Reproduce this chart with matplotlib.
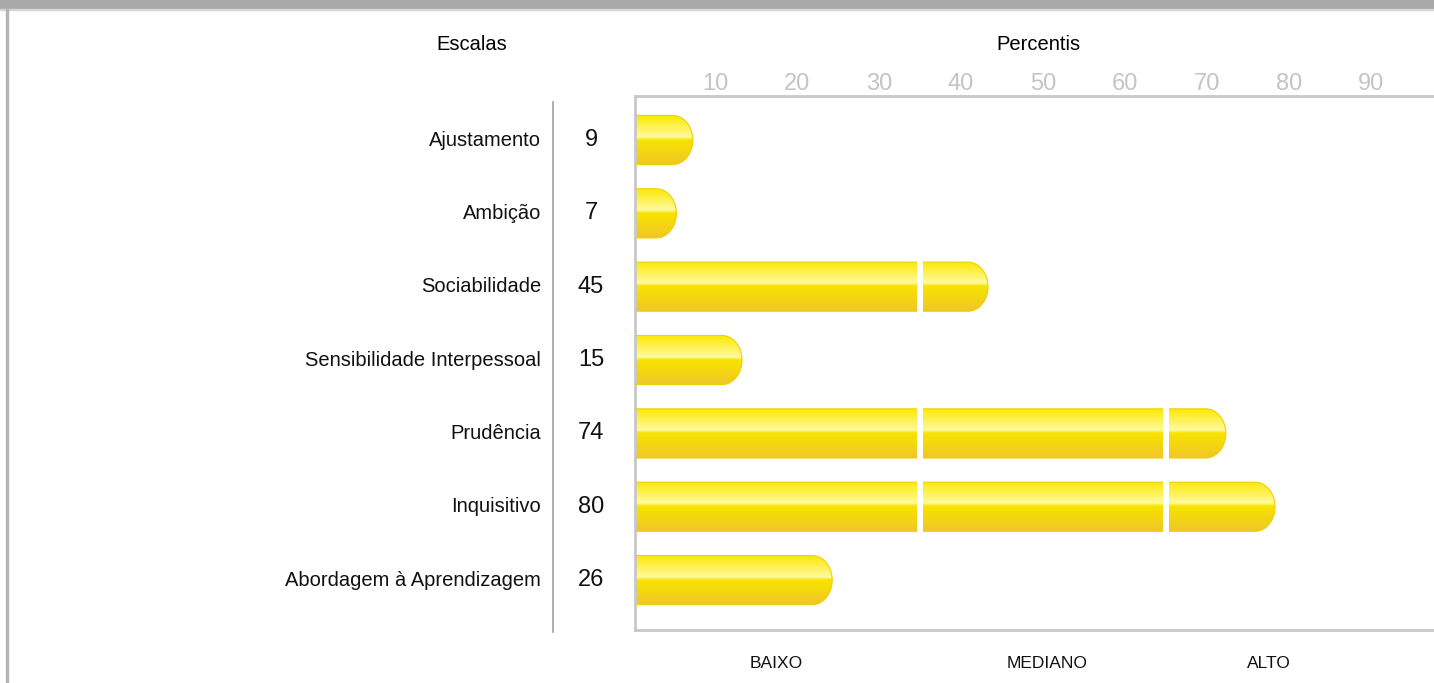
import numpy as np
import matplotlib
matplotlib.use("Agg")
import matplotlib.pyplot as plt
from matplotlib.path import Path
from matplotlib.patches import PathPatch, Rectangle
from matplotlib.colors import LinearSegmentedColormap

plt.rcParams["font.family"] = ["Liberation Sans", "DejaVu Sans"]

# data
scales = ["Ajustamento", "Ambição", "Sociabilidade", "Sensibilidade Interpessoal",
          "Prudência", "Inquisitivo", "Abordagem à Aprendizagem"]
percentis = [9, 7, 45, 15, 74, 80, 26]
ticks = [10, 20, 30, 40, 50, 60, 70, 80, 90]
bands = ["BAIXO", "MEDIANO", "ALTO"]
band_centers = [17.5, 50.5, 77.5]
band_edges = [35, 65]

W, H = 1434, 683
fig = plt.figure(figsize=(W / 100, H / 100), dpi=100)

# frame decoration: grey band at top, thin line on the left
fig.patches.append(Rectangle((0, 1 - 9 / H), 1, 9 / H, transform=fig.transFigure,
                             color="#a9a9a9", zorder=0))
fig.patches.append(Rectangle((0, 1 - 10 / H), 1, 1 / H, transform=fig.transFigure,
                             color="#d6d6d6", zorder=0))
fig.patches.append(Rectangle((6 / W, 0), 2 / W, 1 - 9 / H, transform=fig.transFigure,
                             color="#b4b4b4", zorder=0))

ax_l, ax_t, ax_b = 635, 96, 630
ax = fig.add_axes([ax_l / W, (H - ax_b) / H, (W - ax_l) / W, (ax_b - ax_t) / H])

ppu = 8.2          # pixels per percentile unit
zero_px = 633      # pixel column of value 0
x0 = (ax_l - zero_px) / ppu
x1 = x0 + (W - ax_l) / ppu
y_top, y_bot = -0.6, 6.68

cmap = LinearSegmentedColormap.from_list("pill", [
    (0.0, (0.99, 0.91, 0.0)),
    (0.44, (1.0, 0.98, 0.62)),
    (0.50, (0.97, 0.89, 0.0)),
    (1.0, (0.94, 0.78, 0.16)),
])
grad = np.linspace(0, 1, 256).reshape(-1, 1)

h = 0.67
rx = 20 / ppu        # horizontal radius of rounded end
inset = 14 / ppu     # rounded cap stops a little short of the value
for i, v in enumerate(percentis):
    yt, yb = i - h / 2, i + h / 2
    xe = v - inset
    xs = max(xe - rx, 0)
    t = np.linspace(-np.pi / 2, np.pi / 2, 40)
    arc = [(xs + rx * np.cos(a), i + (h / 2) * np.sin(a)) for a in t]
    verts = [(0, yt)] + [(xs, yt)] + arc + [(0, yb), (0, yt)]
    codes = [Path.MOVETO] + [Path.LINETO] * (len(verts) - 2) + [Path.CLOSEPOLY]
    shape = PathPatch(Path(verts, codes), facecolor="none", edgecolor="#f0d000",
                      lw=0.8, zorder=3)
    ax.add_patch(shape)
    im = ax.imshow(grad, cmap=cmap, extent=(0, xe, yb, yt), aspect="auto",
                   interpolation="bilinear", zorder=2)
    im.set_clip_path(shape)
    for e in band_edges:
        if xe > e + 1:
            ax.add_patch(Rectangle((e - 0.35, yt - 0.02), 0.7, h + 0.04,
                                   facecolor="white", edgecolor="none", zorder=4))
    # value and scale name left of the axis
    ax.text(-(zero_px - 591) / ppu, i, str(v), ha="center", va="center",
            fontsize=17, color="#111111", clip_on=False)
    ax.text(-(zero_px - 541) / ppu, i, scales[i], ha="right", va="center",
            fontsize=14.5, color="#111111", clip_on=False)

ax.set_xlim(x0, x1)
ax.set_ylim(y_bot, y_top)

ax.xaxis.tick_top()
ax.set_xticks(ticks)
ax.set_xticklabels([str(t) for t in ticks])
ax.tick_params(axis="x", length=0, pad=1, labelsize=17, labelcolor="#c4c4c4")
ax.set_yticks([])

for s in ["left", "top", "bottom"]:
    ax.spines[s].set_color("#c8c8c8")
    ax.spines[s].set_linewidth(2)
ax.spines["right"].set_visible(False)

for lab, c in zip(bands, band_centers):
    ax.text(c, -33 / (ax_b - ax_t), lab, ha="center", va="center",
            fontsize=12.5, color="#111111",
            transform=ax.get_xaxis_transform(), clip_on=False)

# separator line between labels and values
fig.add_artist(plt.Line2D([553 / W, 553 / W], [(H - 632) / H, (H - 102) / H],
                          color="#a0a0a0", lw=1.2))

fig.text(472 / W, 1 - 44 / H, "Escalas", ha="center", va="center", fontsize=14.5)
fig.text(1038 / W, 1 - 44 / H, "Percentis", ha="center", va="center", fontsize=14.5)

fig.savefig("out.png", dpi=100)
